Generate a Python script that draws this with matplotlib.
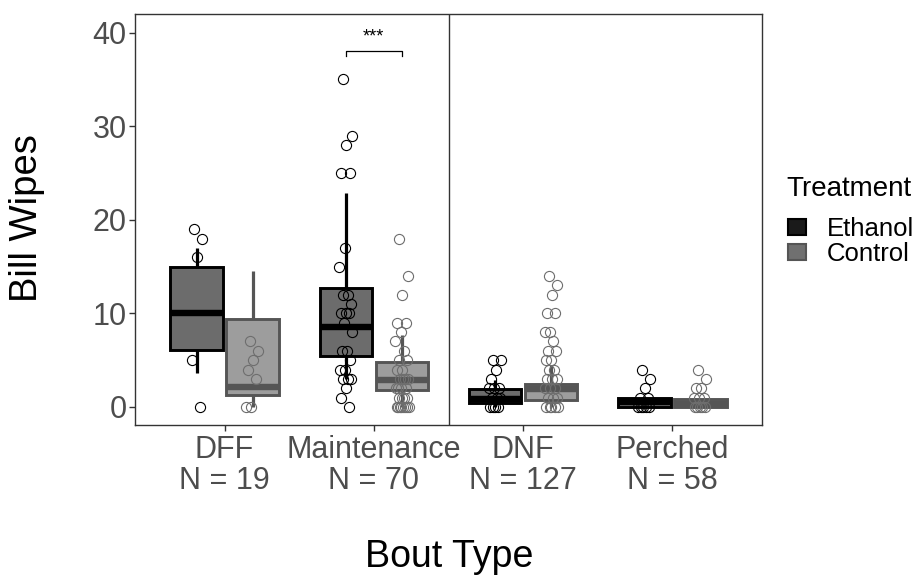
import numpy as np
import matplotlib
matplotlib.use("Agg")
import matplotlib.pyplot as plt
from matplotlib.patches import Patch

plt.rcParams['font.family'] = ['Liberation Sans', 'DejaVu Sans']

categories = ["DFF", "Maintenance", "DNF", "Perched"]
counts = [19, 70, 127, 58]
treatments = ["Ethanol", "Control"]

# box statistics: (whislo, q1, med, q3, whishi)
ethanol_box = [(3.6, 6.1, 10.0, 15.0, 17.0),
               (3.0, 5.45, 8.5, 12.7, 22.9),
               (0.0, 0.45, 0.9, 1.9, 2.9),
               (0.0, 0.0, 0.5, 1.0, 1.0)]
control_box = [(0.0, 1.3, 2.1, 9.4, 14.5),
               (0.0, 1.8, 2.9, 4.85, 7.7),
               (0.0, 0.7, 1.9, 2.5, 4.5),
               (0.0, 0.0, 0.3, 0.8, 0.8)]

# individual observations (jittered points)
ethanol_pts = [
    [19, 18, 16, 5, 0],
    [35, 29, 28, 25, 25, 17, 15, 12, 12, 11, 10, 10, 10, 9, 8, 6, 6, 5, 4, 4, 3, 3, 3, 2, 1, 0],
    [5, 5, 4, 3, 2, 2, 2, 1, 1, 1, 0, 0, 0, 0],
    [4, 3, 2, 1, 1, 0, 0, 0, 0, 0],
]
control_pts = [
    [7, 6, 5, 4, 3, 0, 0],
    [18, 14, 12, 9, 9, 8, 7, 6, 5, 5, 4, 4, 3, 3, 3, 3, 2, 2, 2, 2, 1, 1, 1, 1, 0, 0, 0, 0, 0, 0, 0, 0],
    [14, 13, 12, 10, 10, 8, 8, 7, 6, 6, 5, 5, 4, 4, 3, 3, 3, 2, 2, 2, 1, 1, 1, 0, 0, 0, 0, 0],
    [4, 3, 2, 2, 1, 1, 1, 0, 0, 0, 0, 0],
]

sig_label = "***"
sig_y = 38.0

eth_fill, eth_edge = "#6c6c6c", "#000000"
ctl_fill, ctl_edge = "#9d9d9d", "#555555"
ctl_pt = "#6e6e6e"

fig = plt.figure(figsize=(9.24, 5.8), dpi=100)
ax = fig.add_axes([135/924, 1-425/580, (762-135)/924, (425-14)/580])

x = np.arange(1, len(categories)+1)
dodge = 0.1875
bw = 0.35

def stats_list(boxes):
    return [dict(whislo=b[0], q1=b[1], med=b[2], q3=b[3], whishi=b[4]) for b in boxes]

for boxes, off, fill, edge in [(ethanol_box, -dodge, eth_fill, eth_edge),
                               (control_box, dodge, ctl_fill, ctl_edge)]:
    ax.bxp(stats_list(boxes), positions=x+off, widths=bw, patch_artist=True,
           showcaps=False, showfliers=False, manage_ticks=False,
           boxprops=dict(facecolor=fill, edgecolor=edge, linewidth=2.1),
           medianprops=dict(color=edge, linewidth=4.6, solid_capstyle='butt'),
           whiskerprops=dict(color=edge, linewidth=2.3, solid_capstyle='butt'),
           zorder=2)

def jitter(n, width):
    return np.array([((i * 0.618034 + 0.31) % 1.0 - 0.5) * width for i in range(n)])

for pts, off, ec in [(ethanol_pts, -dodge, "#000000"), (control_pts, dodge, ctl_pt)]:
    for i, vals in enumerate(pts):
        vals = np.array(vals, dtype=float)
        xs = x[i] + off + jitter(len(vals), 0.09)
        ax.plot(xs, vals, linestyle='none', marker='o', markersize=7.3,
                markerfacecolor='none', markeredgecolor=ec, markeredgewidth=0.8, zorder=3)

# separator between panels of bout types
ax.axvline(2.5, color="#333333", linewidth=1.0, zorder=1)

# significance bracket
x0, x1 = 2 - dodge, 2 + dodge
ax.plot([x0, x0, x1, x1], [sig_y - 0.45, sig_y, sig_y, sig_y - 0.45], color="#000000", linewidth=0.9)
ax.text(2, sig_y + 1.5, sig_label, ha='center', va='center', fontsize=13, color="#000000")

ax.set_xlim(0.4, 4.6)
ax.set_ylim(-1.93, 42.0)
ax.set_yticks([0, 10, 20, 30, 40])
ax.set_xticks(x)
ax.set_xticklabels([f"{c}\nN = {n}" for c, n in zip(categories, counts)], linespacing=1.05)
ax.tick_params(axis='both', colors="#333333", labelcolor="#4d4d4d", labelsize=22,
               length=4, width=1)
ax.tick_params(axis='x', pad=3)
ax.tick_params(axis='y', pad=2)
for s in ax.spines.values():
    s.set_color("#333333")
    s.set_linewidth(1.0)

fig.text(27/924, 1-218/580, "Bill Wipes", rotation=90, ha='center', va='center', fontsize=27.5, color="#000000")
fig.text(449/924, 1-557/580, "Bout Type", ha='center', va='center', fontsize=27, color="#000000")

# legend
fig.text(786/924, 1-189/580, "Treatment", ha='left', va='center', fontsize=20, color="#000000")
handles = [Patch(facecolor="#1a1a1a", edgecolor="#000000", linewidth=1.5),
           Patch(facecolor="#707070", edgecolor="#555555", linewidth=1.5)]
leg = fig.legend(handles, treatments, loc='upper left',
                 bbox_to_anchor=(788/924, 1-217/580), frameon=False, fontsize=18.5,
                 handlelength=0.7, handleheight=0.58, handletextpad=0.8,
                 labelspacing=0.05, borderaxespad=0, borderpad=0)

fig.savefig("out.png", dpi=100, facecolor='white')
